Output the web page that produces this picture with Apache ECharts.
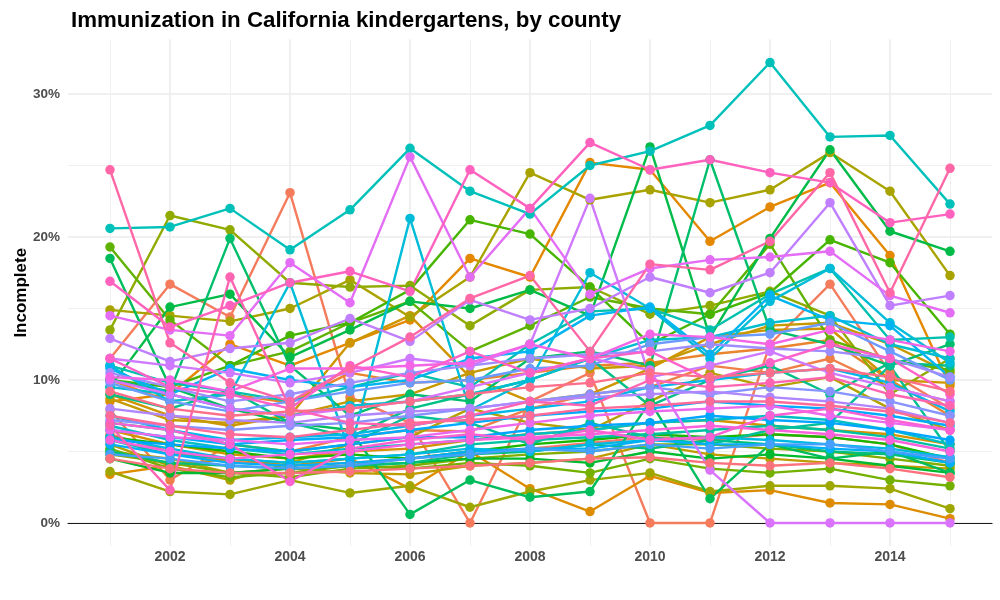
<!DOCTYPE html>
<html><head><meta charset="utf-8">
<script src="https://cdn.jsdelivr.net/npm/echarts@6/dist/echarts.min.js"></script>
<style>html,body{margin:0;padding:0;background:#fff}#c{width:1000px;height:600px}</style>
</head><body><div id="c"></div>
<script>
// ---------- data ----------
const years = [2001,2002,2003,2004,2005,2006,2007,2008,2009,2010,2011,2012,2013,2014,2015];
const xTickLabels = [2002,2004,2006,2008,2010,2012,2014];
const yTickLabels = ['0%','10%','20%','30%'];
const counties = ['Alameda','Alpine','Amador','Butte','Calaveras','Colusa','Contra Costa','Del Norte','El Dorado','Fresno','Glenn','Humboldt','Imperial','Inyo','Kern','Kings','Lake','Lassen','Los Angeles','Madera','Marin','Mariposa','Mendocino','Merced','Modoc','Mono','Monterey','Napa','Nevada','Orange','Placer','Plumas','Riverside','Sacramento','San Benito','San Bernardino','San Diego','San Francisco','San Joaquin','San Luis Obispo','San Mateo','Santa Barbara','Santa Clara','Santa Cruz','Shasta','Sierra','Siskiyou','Solano','Sonoma','Stanislaus','Sutter','Tehama','Trinity','Tulare','Tuolumne','Ventura','Yolo','Yuba'];

// percent of kindergartners with incomplete immunization, 2001..2015
const alameda        = [6.2,5.0,4.3,4.0,4.2,4.5,5.0,5.2,5.6,6.0,5.8,6.2,6.0,5.5,4.2];
const alpine         = [11.5,16.7,14.4,23.1,8.8,7.0,0,8.5,10.5,0,0,12.5,16.7,10.5,8.0];
const amador         = [7.9,3.0,5.5,5.0,6.0,6.5,6.4,8.0,9.0,9.5,11.0,10.5,11.5,9.5,8.5];
const butte          = [10.0,8.5,9.0,8.4,10.5,9.8,10.0,10.5,11.0,11.2,11.8,12.2,12.8,10.0,7.5];
const calaveras      = [8.5,9.0,12.5,11.0,12.6,14.2,18.5,17.2,25.2,24.7,19.7,22.1,23.8,18.7,9.6];
const colusa         = [3.4,4.0,4.5,4.0,4.5,2.4,5.0,2.4,0.8,3.3,2.1,2.3,1.4,1.3,0.3];
const contraCosta    = [6.5,5.5,4.8,4.5,5.0,5.2,5.8,6.2,6.5,7.0,7.2,6.8,6.5,6.2,5.5];
const delNorte       = [9.0,7.5,6.8,7.5,12.6,14.5,10.2,8.5,9.0,10.8,13.0,13.5,13.6,10.0,9.8];
const elDorado       = [8.7,7.2,7.0,7.5,8.5,9.0,10.5,11.5,10.8,11.0,12.5,13.8,14.0,12.5,10.5];
const fresno         = [5.0,4.5,3.5,3.8,3.5,3.4,4.0,4.2,4.5,5.5,4.8,4.5,4.2,4.0,3.8];
const glenn          = [5.5,4.0,3.0,4.2,5.5,6.0,8.0,7.0,6.5,8.5,10.5,9.5,10.2,8.0,6.5];
const humboldt       = [14.9,14.5,14.1,15.0,17.0,14.4,17.2,24.5,22.6,23.3,22.4,23.3,25.9,23.2,17.3];
const imperial       = [3.6,2.2,2.0,3.0,2.1,2.6,1.1,2.2,3.0,3.5,2.2,2.6,2.6,2.4,1.0];
const inyo           = [13.5,21.5,20.5,16.8,16.5,16.6,13.8,16.3,16.5,14.6,15.2,16.2,14.5,9.0,11.5];
const kern           = [4.8,4.2,3.5,3.2,3.8,4.0,4.5,4.8,5.0,5.5,5.5,5.2,5.0,4.5,4.0];
const kings          = [5.2,3.8,3.2,3.5,4.0,3.8,4.2,4.0,3.5,4.5,3.8,3.5,3.8,3.0,2.6];
const lake           = [19.3,14.2,11.0,12.0,14.0,15.5,12.0,13.8,15.8,15.0,14.6,19.5,12.8,11.4,10.7];
const lassen         = [10.0,9.5,11.0,13.1,14.0,16.3,21.2,20.2,16.5,12.5,14.6,16.1,19.8,18.2,13.2];
const losAngeles     = [6.0,5.5,5.0,4.5,4.8,4.5,5.0,5.5,5.8,6.2,6.0,6.2,6.0,5.5,4.5];
const madera         = [4.5,3.5,3.5,3.8,4.0,4.2,4.5,4.5,4.2,5.0,4.5,4.8,4.5,4.0,3.5];
const marin          = [9.5,15.1,16.0,11.6,13.5,15.5,15.0,16.3,14.5,26.3,13.0,19.9,26.1,20.4,19.0];
const mariposa       = [18.5,9.5,8.0,7.0,6.5,0.6,3.0,1.8,2.2,8.5,1.7,5.5,4.5,5.0,3.5];
const mendocino      = [10.0,9.2,19.9,11.0,7.5,9.0,8.5,11.5,12.0,11.0,25.4,13.5,12.5,11.0,12.5];
const merced         = [5.0,4.2,4.0,3.8,4.0,4.2,4.8,5.0,5.5,5.2,5.8,5.5,5.0,4.8,4.2];
const modoc          = [9.0,8.0,9.3,7.0,6.0,8.0,9.0,10.0,11.5,8.2,10.0,11.0,9.0,11.2,11.0];
const mono           = [7.0,6.5,5.5,5.0,5.5,7.5,7.0,5.5,7.0,6.0,5.5,6.5,7.0,11.0,5.0];
const monterey       = [5.8,4.8,4.5,4.2,4.5,4.8,5.5,5.8,6.0,6.2,6.5,6.8,6.5,6.0,5.2];
const napa           = [11.0,9.8,9.2,8.5,9.5,10.5,9.5,12.5,14.8,15.0,13.5,16.0,17.8,12.8,13.0];
const nevada         = [20.6,20.7,22.0,19.1,21.9,26.2,23.2,21.6,25.0,26.0,27.8,32.2,27.0,27.1,22.3];
const orange         = [6.8,5.8,5.2,4.8,5.2,5.5,5.8,6.2,6.5,7.0,7.2,7.5,7.2,6.5,5.5];
const placer         = [9.5,9.0,8.0,7.5,8.2,8.5,9.0,10.0,11.5,12.8,13.0,14.0,14.5,12.5,11.5];
const plumas         = [11.0,8.5,9.0,16.8,5.0,21.3,7.9,10.0,17.5,15.0,11.5,15.5,17.8,14.0,11.2];
const riverside      = [6.0,5.2,4.5,4.2,4.5,4.8,5.2,5.0,5.5,5.8,6.0,5.8,5.5,5.2,4.6];
const sacramento     = [7.5,6.5,5.8,6.0,6.2,6.8,7.5,8.0,8.5,9.5,10.0,10.5,10.8,9.8,7.8];
const sanBenito      = [10.8,9.0,10.8,10.0,9.5,10.0,11.5,12.0,14.5,15.1,11.8,15.9,14.2,13.8,10.2];
const sanBernardino  = [5.5,4.8,4.2,4.0,4.2,4.5,5.0,5.2,5.2,5.8,5.5,5.5,5.2,5.0,4.2];
const sanDiego       = [6.5,6.0,5.5,5.8,6.0,6.5,7.0,7.5,7.8,8.0,8.5,8.2,8.0,7.5,6.8];
const sanFrancisco   = [5.8,5.5,5.2,5.0,5.5,6.0,6.0,6.5,6.8,7.0,7.5,7.2,7.0,6.5,5.8];
const sanJoaquin     = [4.8,4.5,4.0,3.8,4.0,4.5,4.8,5.2,5.0,5.5,5.2,5.5,5.5,5.0,4.5];
const sanLuisObispo  = [9.8,8.5,7.8,8.5,9.2,9.8,10.0,10.8,11.0,12.5,13.0,13.2,14.0,12.0,10.0];
const sanMateo       = [7.2,6.8,6.5,6.8,7.0,7.5,8.0,8.5,9.0,9.5,9.0,9.5,9.2,8.5,7.5];
const santaBarbara   = [10.5,9.5,8.5,9.0,9.8,10.5,11.0,11.5,11.8,12.0,12.5,12.2,12.0,11.5,10.2];
const santaClara     = [8.0,7.5,7.2,7.0,7.5,7.8,8.0,8.5,8.8,9.0,9.2,8.8,8.5,8.0,7.0];
const santaCruz      = [12.9,11.3,12.2,12.6,14.3,12.7,15.6,14.2,15.0,17.2,16.1,17.5,22.4,15.2,15.9];
const shasta         = [11.5,11.0,10.5,9.8,10.5,11.5,11.0,12.5,22.7,10.2,11.0,12.0,10.5,9.5,8.5];
const sierra         = [10.0,9.0,8.0,7.5,8.0,8.5,9.5,10.5,11.5,10.7,3.7,0,0,0,0];
const siskiyou       = [14.5,13.5,13.1,18.2,15.4,25.6,17.2,22.0,16.0,17.8,18.4,18.6,19.0,15.9,14.7];
const solano         = [6.5,6.0,5.8,5.5,5.8,6.0,6.5,7.0,7.5,7.8,8.0,8.2,7.5,7.0,6.5];
const sonoma         = [10.2,10.0,9.2,10.8,10.8,11.0,11.2,12.5,11.5,13.2,13.0,12.5,13.5,12.8,12.0];
const stanislaus     = [5.8,5.0,4.5,4.8,5.0,5.5,5.8,6.0,6.2,6.5,6.8,6.5,6.2,5.8,5.0];
const sutter         = [7.0,6.5,5.5,2.9,5.2,5.8,6.2,5.8,6.5,5.8,6.0,7.5,8.0,7.2,6.5];
const tehama         = [11.5,9.5,9.0,8.0,11.0,10.2,12.0,10.5,11.5,12.0,10.0,11.2,12.5,11.5,9.0];
const trinity        = [16.9,13.7,15.2,16.8,17.6,16.2,24.7,22.0,26.6,24.7,25.4,24.5,23.8,21.0,21.6];
const tulare         = [6.8,2.3,17.2,8.0,7.0,6.8,7.5,8.5,8.2,10.0,9.5,9.8,10.2,9.0,8.2];
const tuolumne       = [24.7,12.6,9.8,8.5,10.8,13.0,15.7,17.3,12.0,18.1,17.7,19.7,24.5,16.1,24.8];
const ventura        = [7.5,6.8,6.2,6.0,6.5,7.0,7.2,7.5,8.0,8.2,8.5,8.5,8.2,7.8,7.0];
const yolo           = [9.2,8.0,7.5,7.8,8.0,8.5,9.0,9.5,9.8,10.5,10.2,10.5,10.8,10.2,9.2];
const yuba           = [4.5,3.8,3.5,3.5,3.6,3.8,4.0,4.2,4.5,4.6,4.2,4.0,4.2,3.8,3.2];

const countyValues = [alameda,alpine,amador,butte,calaveras,colusa,contraCosta,delNorte,elDorado,fresno,glenn,humboldt,imperial,inyo,kern,kings,lake,lassen,losAngeles,madera,marin,mariposa,mendocino,merced,modoc,mono,monterey,napa,nevada,orange,placer,plumas,riverside,sacramento,sanBenito,sanBernardino,sanDiego,sanFrancisco,sanJoaquin,sanLuisObispo,sanMateo,santaBarbara,santaClara,santaCruz,shasta,sierra,siskiyou,solano,sonoma,stanislaus,sutter,tehama,trinity,tulare,tuolumne,ventura,yolo,yuba];

// ---------- ggplot2 default hue palette ----------
function hcl2hex(h, c, l) {
  const hr = h * Math.PI / 180;
  const U = c * Math.cos(hr), V = c * Math.sin(hr);
  const Y = l > 8 ? Math.pow((l + 16) / 116, 3) : l / 903.3;
  const Xn = 0.95047, Yn = 1.0, Zn = 1.08883;
  const den = Xn + 15 * Yn + 3 * Zn;
  const un = 4 * Xn / den, vn = 9 * Yn / den;
  const up = U / (13 * l) + un, vp = V / (13 * l) + vn;
  const X = Y * 9 * up / (4 * vp);
  const Z = Y * (12 - 3 * up - 20 * vp) / (4 * vp);
  let r = 3.240479 * X - 1.537150 * Y - 0.498535 * Z;
  let g = -0.969256 * X + 1.875992 * Y + 0.041556 * Z;
  let b = 0.055648 * X - 0.204043 * Y + 1.057311 * Z;
  const gam = v => { v = v <= 0.0031308 ? 12.92 * v : 1.055 * Math.pow(v, 1 / 2.4) - 0.055; return Math.max(0, Math.min(1, v)); };
  const hx = v => Math.round(gam(v) * 255).toString(16).padStart(2, '0');
  return '#' + hx(r) + hx(g) + hx(b);
}
const n = counties.length;
const palette = counties.map((_, i) => hcl2hex(15 + i * 360 / n, 100, 65));

// ---------- chart ----------
const yMin = -1.61, yMax = 33.81, xMin = 2000.3, xMax = 2015.7;
const FONT = 'Liberation Sans, Arial, Helvetica, sans-serif';
const isInt = v => Math.abs(v - Math.round(v)) < 1e-6;

const lineSeries = counties.map((name, i) => ({
  name, type: 'line', xAxisIndex: 0, yAxisIndex: 0,
  data: years.map((yr, k) => [yr, countyValues[i][k]]),
  showSymbol: false, symbol: 'none', z: 2,
  lineStyle: { color: palette[i], width: 2.4 },
  itemStyle: { color: palette[i] },
  emphasis: { disabled: true }, silent: true, animation: false
}));
const pointSeries = counties.map((name, i) => ({
  name, type: 'scatter', xAxisIndex: 0, yAxisIndex: 0,
  data: years.map((yr, k) => [yr, countyValues[i][k]]),
  symbol: 'circle', symbolSize: 9.5, z: 3,
  itemStyle: { color: palette[i], opacity: 1 },
  emphasis: { disabled: true }, silent: true, animation: false
}));

const chart = echarts.init(document.getElementById('c'), null, { renderer: 'canvas' });
chart.setOption({
  backgroundColor: '#ffffff',
  animation: false,
  title: {
    text: 'Immunization in California kindergartens, by county',
    left: 66, top: 5,
    textStyle: { fontFamily: FONT, fontWeight: 'bold', fontSize: 22.3, color: '#000' }
  },
  grid: { left: 68, right: 8, top: 39.5, bottom: 54, containLabel: false },
  xAxis: [
    {
      type: 'value', min: xMin, max: xMax, splitNumber: 8,
      axisLine: { show: true, onZero: true, lineStyle: { color: '#1a1a1a', width: 1.2 } },
      axisTick: { show: false },
      axisLabel: {
        margin: 4, fontFamily: FONT, fontWeight: 'bold', fontSize: 14, color: '#4d4d4d',
        showMinLabel: false, showMaxLabel: false,
        formatter: v => (isInt(v) && xTickLabels.indexOf(Math.round(v)) >= 0) ? String(Math.round(v)) : ''
      },
      splitLine: { show: true, showMinLine: false, showMaxLine: false, lineStyle: { color: '#ebebeb', width: 1.6 } }
    },
    {
      type: 'value', min: xMin, max: xMax, splitNumber: 15, position: 'top',
      axisLine: { show: false }, axisTick: { show: false }, axisLabel: { show: false },
      splitLine: { show: true, showMinLine: false, showMaxLine: false, lineStyle: { color: '#f0f0f0', width: 1 } }
    }
  ],
  yAxis: [
    {
      type: 'value', min: yMin, max: yMax, splitNumber: 4,
      name: 'Incomplete', nameLocation: 'middle', nameGap: 38, nameRotate: 90,
      nameMoveOverlap: false,
      nameTextStyle: { fontFamily: FONT, fontWeight: 'bold', fontSize: 17, color: '#000' },
      axisLine: { show: false }, axisTick: { show: false },
      axisLabel: {
        margin: 8, fontFamily: FONT, fontWeight: 'bold', fontSize: 13.5, color: '#4d4d4d',
        showMinLabel: false, showMaxLabel: false,
        formatter: v => {
          if (!isInt(v)) return '';
          const lab = Math.round(v) + '%';
          return yTickLabels.indexOf(lab) >= 0 ? lab : '';
        }
      },
      splitLine: { show: true, showMinLine: false, showMaxLine: false, lineStyle: { color: '#ebebeb', width: 1.6 } }
    },
    {
      type: 'value', min: yMin, max: yMax, splitNumber: 7, position: 'right',
      axisLine: { show: false }, axisTick: { show: false }, axisLabel: { show: false },
      splitLine: { show: true, showMinLine: false, showMaxLine: false, lineStyle: { color: '#f0f0f0', width: 1 } }
    }
  ],
  series: lineSeries.concat(pointSeries)
});
</script>
</body></html>
